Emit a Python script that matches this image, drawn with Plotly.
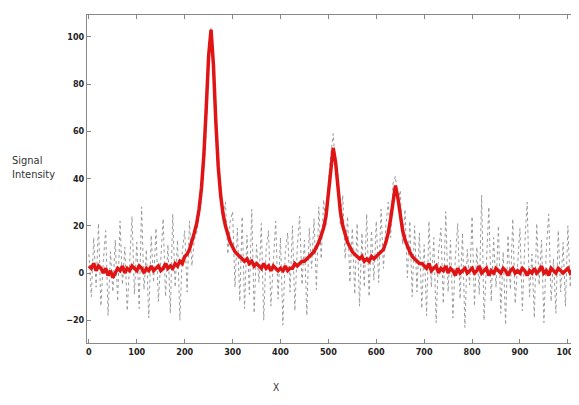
import plotly.graph_objects as go

# Sample grid (x positions, step 5)
X_START = 0
X_STEP = 5

# Smoothed signal (red), one value per x step
red_values = [
    3, 2, 4, 1, 3, 2, 0, 2, -1, 1, -2, 0, 2, 1, 3, 0, 2, 1, 3, 2,
    1, 3, 2, 0, 2, 1, 3, 1, 2, 3, 1, 2, 4, 2, 3, 2, 4, 3, 5, 4,
    7, 8, 10, 13, 17, 21, 27, 36, 50, 70, 92, 103, 88, 64, 45, 33, 25, 20, 16, 13,
    11, 9, 8, 7, 6, 5, 6, 4, 5, 3, 4, 3, 2, 4, 2, 3, 1, 3, 2, 1,
    2, 1, 3, 1, 2, 2, 4, 3, 4, 5, 5, 6, 7, 8, 9, 11, 13, 16, 19, 24,
    34, 45, 53, 47, 35, 26, 20, 16, 13, 11, 9, 8, 7, 6, 7, 5, 6, 5, 7, 6,
    7, 8, 9, 10, 13, 17, 23, 31, 37, 32, 24, 18, 14, 11, 9, 7, 6, 5, 4, 4,
    3, 2, 4, 1, 2, 3, 0, 2, 1, 3, 0, 2, 1, -1, 2, 0, 1, 2, 0, 1,
    2, 0, 1, 3, 0, 1, 2, -1, 1, 0, 2, 1, 0, 2, 1, -1, 1, 2, 0, 1,
    0, 2, 1, -1, 1, 0, 2, 0, 1, 3, 0, 1, -1, 2, 1, 0, 2, 1, 0, 1,
    2, 0, 1, 1,
]

# Raw noisy signal (gray dotted)
gray_values = [
    8, -10, 15, -6, 21, -14, 5, 18, -18, 9, -8, 14, -12, 22, -5, 11, -16, 7, 24, -9,
    13, -15, 28, -7, 10, -19, 16, -4, 19, -12, 6, 23, -10, 12, -17, 25, -6, 14, -20, 9,
    18, -8, 22, 3, 14, 17, 24, 31, 44, 60, 92, 104, 89, 62, 44, 37, 22, 30, 8, 22,
    26, -6, 19, -12, 24, -15, 16, -9, 27, -17, 12, -4, 21, -20, 10, 18, -14, 6, 22, -11,
    15, -22, 9, 17, -8, 20, -16, 11, 24, -5, 14, -18, 19, 2, 23, -7, 28, 6, 31, 20,
    38, 50, 59, 45, 41, 20, 33, 6, 24, -4, 19, -9, 21, -14, 17, -6, 25, -10, 18, -3,
    22, -4, 27, 2, 20, 30, 15, 38, 41, 30, 35, 12, 27, -2, 22, -10, 20, -8, 17, -15,
    12, -18, 22, -6, 15, -21, 9, 19, -13, 26, -8, 14, -19, 6, 21, -11, 17, -23, 10, -5,
    24, -14, 11, -9, 33, -20, 7, 28, -12, 15, -6, 20, -17, 9, -22, 16, -7, 23, -13, 5,
    19, -16, 12, 30, -10, 8, -19, 21, -5, 14, -21, 10, 25, -12, 6, -17, 18, -8, 13, -14,
    20, -6, 15, -11,
]

x_tick_vals = [0, 100, 200, 300, 400, 500, 600, 700, 800, 900, 1000]
y_tick_vals = [-20, 0, 20, 40, 60, 80, 100]

x_values = [X_START + X_STEP * i for i in range(len(red_values))]

fig = go.Figure()
fig.add_trace(go.Scatter(
    x=x_values, y=gray_values, mode="lines",
    line=dict(color="#9a9a9a", width=1, dash="dot"),
    showlegend=False, hoverinfo="skip",
))
fig.add_trace(go.Scatter(
    x=x_values, y=red_values, mode="lines",
    line=dict(color="#e01414", width=3.5),
    showlegend=False,
))

tickfont = dict(family="Liberation Sans Narrow, DejaVu Sans Condensed, Arial Narrow", size=9,
                color="#222222", weight="bold")

fig.update_layout(
    width=571, height=397,
    margin=dict(l=79, r=0, t=7, b=62),
    paper_bgcolor="white", plot_bgcolor="white",
    xaxis=dict(range=[-4, 1017], tickvals=x_tick_vals, ticks="inside", ticklen=4,
               tickcolor="#888888", showline=True, linecolor="#888888", linewidth=1,
               mirror="ticks", showgrid=False, zeroline=False, tickfont=tickfont,
               ticklabeloverflow="allow"),
    yaxis=dict(range=[-29.6, 109.2], tickvals=y_tick_vals, ticks="inside", ticklen=4,
               tickcolor="#888888", showline=True, linecolor="#888888", linewidth=1,
               mirror="ticks", showgrid=False, zeroline=False, tickfont=tickfont),
    annotations=[
        dict(text="Signal<br>Intensity", xref="paper", yref="paper",
             x=-0.158, y=0.534, xanchor="left", yanchor="middle", align="left",
             showarrow=False,
             font=dict(family="Liberation Sans Narrow, DejaVu Sans Condensed", size=11,
                       color="#333333")),
        dict(text="X", xref="paper", yref="paper", x=0.386, y=-0.137,
             xanchor="center", yanchor="middle", showarrow=False,
             font=dict(family="Liberation Sans Narrow, DejaVu Sans Condensed", size=10,
                       color="#333333")),
    ],
)

fig.write_html("out.html")
